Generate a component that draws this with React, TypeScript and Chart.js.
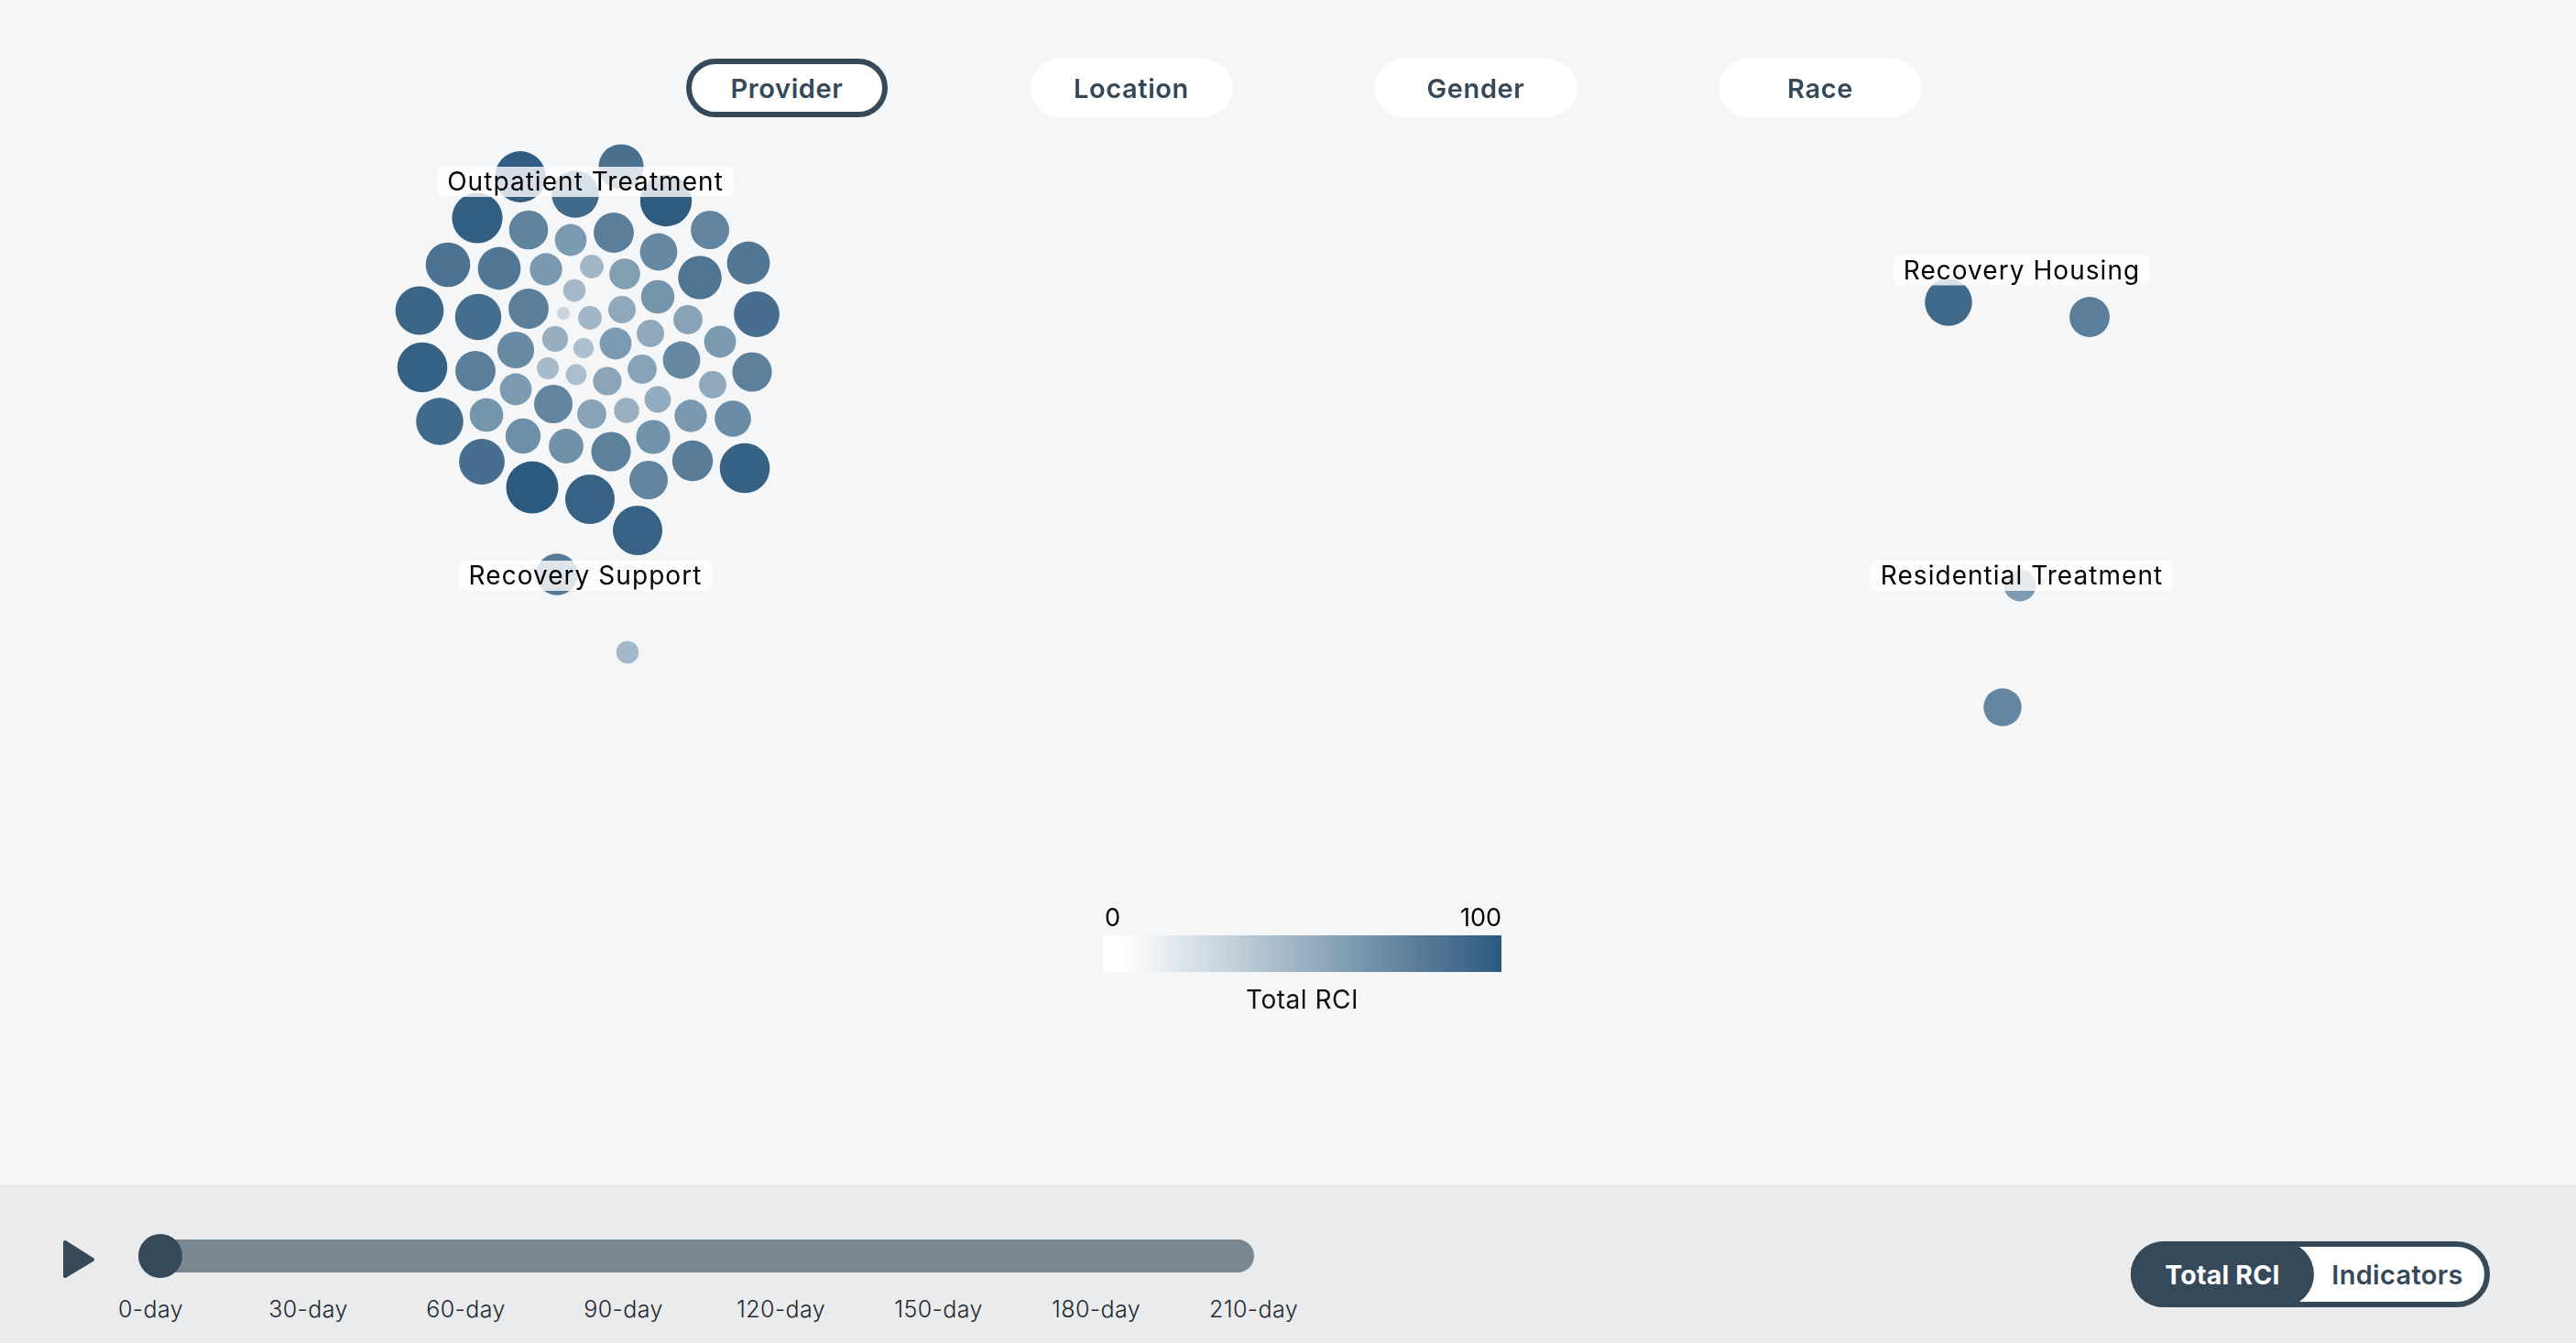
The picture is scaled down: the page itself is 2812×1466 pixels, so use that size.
import { useEffect, useRef } from 'react';
import { Chart } from 'chart.js/auto';

const FONT = 'Inter, "Open Sans", sans-serif';
const DARK = '#364958';

const tabs = ['Provider', 'Location', 'Gender', 'Race'];
const tabLeft = [749, 1125, 1501, 1877];
const dayLabels = ['0-day', '30-day', '60-day', '90-day', '120-day', '150-day', '180-day', '210-day'];

// bubble layout positions + Total RCI per client
const outpatientX = [568, 678, 628, 727, 521, 577, 623, 670, 775, 719, 489, 545, 596, 646, 682, 817, 764, 627, 718, 458, 522, 577, 615, 644, 679, 751, 826, 606, 672, 710, 563, 637, 786, 744, 461, 519, 598, 629, 663, 701, 821, 778, 563, 604, 646, 684, 718, 754, 800, 480, 531, 571, 618, 667, 713, 756, 813, 526, 581, 644, 708, 696];
const outpatientY = [193, 182, 212, 219, 238, 251, 262, 254, 251, 275, 289, 293, 294, 291, 299, 287, 303, 317, 324, 339, 346, 337, 342, 347, 338, 349, 343, 370, 375, 364, 382, 380, 373, 393, 401, 405, 402, 409, 416, 403, 406, 420, 425, 441, 452, 448, 436, 454, 457, 460, 453, 476, 487, 493, 477, 503, 511, 504, 532, 545, 524, 579];
const outpatientRci = [98, 87, 91, 99, 97, 76, 63, 78, 75, 73, 86, 83, 64, 48, 61, 83, 84, 46, 66, 93, 89, 78, 29, 48, 55, 58, 88, 52, 63, 55, 72, 42, 63, 73, 96, 78, 45, 43, 57, 58, 77, 55, 63, 75, 58, 51, 53, 64, 71, 91, 66, 69, 68, 77, 67, 79, 96, 88, 100, 95, 75, 95];

const supportX = [608, 685];
const supportY = [627, 712];
const supportRci = [81, 46];

const housingX = [2127, 2281];
const housingY = [330, 346];
const housingRci = [91, 78];

const residentialX = [2205, 2186];
const residentialY = [639, 772];
const residentialRci = [63, 74];

const groupNames = ['Outpatient Treatment', 'Recovery Support', 'Recovery Housing', 'Residential Treatment'];
const groupLabelX = [639, 639, 2207, 2207];
const groupLabelY = [198.5, 628.5, 295, 628.5];

// colour ramp of the Total RCI legend
const rampStops = [0, 5, 29, 48, 63, 78, 87, 100];
const rampColors = ['#ffffff', '#ffffff', '#c9d6df', '#a0b5c6', '#7c9ab0', '#5b7f9a', '#4a7090', '#2b5a7e'];

function hexToRgb(hex: string) {
    return [1, 3, 5].map((i) => parseInt(hex.slice(i, i + 2), 16));
}

function rciColor(v: number) {
    let i = 0;
    while (i < rampStops.length - 2 && v > rampStops[i + 1]) i++;
    const t = Math.min(1, (v - rampStops[i]) / (rampStops[i + 1] - rampStops[i]));
    const a = hexToRgb(rampColors[i]);
    const b = hexToRgb(rampColors[i + 1]);
    return `rgb(${a.map((c, k) => Math.round(c + (b[k] - c) * t)).join(',')})`;
}

// bubble size follows the same value as colour
function rciRadius(v: number) {
    return 0.3 * v - 1.5;
}

function makeDataset(label: string, xs: number[], ys: number[], rci: number[]) {
    return {
        label,
        data: xs.map((x, i) => ({ x, y: ys[i], r: rciRadius(rci[i]) })),
        backgroundColor: rci.map(rciColor),
        borderWidth: 0,
        hoverBorderWidth: 0,
    };
}

const groupLabelPlugin = {
    id: 'groupLabels',
    afterDatasetsDraw(chart: any) {
        const { ctx, scales } = chart;
        ctx.save();
        ctx.font = `400 28px ${FONT}`;
        ctx.letterSpacing = '1.05px';
        ctx.textAlign = 'center';
        ctx.textBaseline = 'middle';
        groupNames.forEach((name, i) => {
            const x = scales.x.getPixelForValue(groupLabelX[i]);
            const y = scales.y.getPixelForValue(groupLabelY[i]);
            const w = ctx.measureText(name).width + 22;
            ctx.fillStyle = 'rgba(255,255,255,0.8)';
            ctx.beginPath();
            ctx.roundRect(x - w / 2, y - 16.5, w, 33, 7);
            ctx.fill();
            ctx.fillStyle = '#000';
            ctx.fillText(name, x, y + 1.5);
        });
        ctx.restore();
    },
};

function BubbleChart() {
    const canvasRef = useRef<HTMLCanvasElement>(null);

    useEffect(() => {
        if (!canvasRef.current) return;

        const chart = new Chart(canvasRef.current, {
            type: 'bubble',
            data: {
                datasets: [
                    makeDataset(groupNames[0], outpatientX, outpatientY, outpatientRci),
                    makeDataset(groupNames[1], supportX, supportY, supportRci),
                    makeDataset(groupNames[2], housingX, housingY, housingRci),
                    makeDataset(groupNames[3], residentialX, residentialY, residentialRci),
                ],
            },
            options: {
                animation: false,
                responsive: false,
                // bubbles otherwise push the plot area in by their max radius
                layout: { autoPadding: false },
                plugins: {
                    legend: { display: false },
                    tooltip: { enabled: false },
                },
                scales: {
                    x: { type: 'linear', min: 0, max: 2812, display: false },
                    y: { type: 'linear', min: 0, max: 1293, reverse: true, display: false },
                },
            },
            plugins: [groupLabelPlugin],
        });

        return () => chart.destroy();
    }, []);

    return <canvas ref={canvasRef} width={2812} height={1293} style={{ position: 'absolute', left: 0, top: 0 }} />;
}

function abs(left: number, top: number, width: number, height: number) {
    return { position: 'absolute' as const, left, top, width, height };
}

export default function App() {
    const rampCss = rampStops.map((s, i) => `${rampColors[i]} ${s}%`).join(',');

    return (
        <div style={{ ...abs(0, 0, 2812, 1466), background: '#f5f6f8', overflow: 'hidden', fontFamily: FONT }}>
            <style>{'body{margin:0}'}</style>
            <BubbleChart />

            {tabs.map((tab, i) => (
                <div
                    key={tab}
                    style={{
                        ...abs(tabLeft[i], 64, 220, 64),
                        boxSizing: 'border-box',
                        background: '#fff',
                        border: i === 0 ? `6px solid ${DARK}` : 'none',
                        borderRadius: 32,
                        display: 'flex',
                        alignItems: 'center',
                        justifyContent: 'center',
                        fontSize: 29,
                        letterSpacing: 0.6,
                        fontWeight: 600,
                        color: DARK,
                    }}
                >
                    {tab}
                </div>
            ))}

            {/* colour legend */}
            <div style={{ ...abs(1206, 986, 60, 32), fontSize: 27, lineHeight: '32px', color: '#000' }}>0</div>
            <div style={{ ...abs(1539, 986, 100, 32), fontSize: 27, lineHeight: '32px', color: '#000', textAlign: 'right' }}>100</div>
            <div style={{ ...abs(1204, 1021, 435, 40), background: `linear-gradient(to right, ${rampCss})` }} />
            <div style={{ ...abs(1204, 1075, 435, 32), fontSize: 28, letterSpacing: 0.5, lineHeight: '32px', color: '#111', textAlign: 'center' }}>Total RCI</div>

            {/* footer with time slider and toggle */}
            <div style={{ ...abs(0, 1293, 2812, 173), background: '#e9ebed' }} />
            <svg style={abs(66, 1350, 42, 50)} viewBox="0 0 42 50">
                <polygon points="5,6 5,43 35,25" fill={DARK} stroke={DARK} strokeWidth={4} strokeLinejoin="round" />
            </svg>
            <div style={{ ...abs(160, 1353, 1209, 36), background: '#7b8790', borderRadius: 18 }} />
            <div style={{ ...abs(151, 1347, 48, 48), background: DARK, borderRadius: '50%' }} />
            {dayLabels.map((d, i) => (
                <div
                    key={d}
                    style={{
                        ...abs(164.5 + i * 172 - 80, 1414, 160, 30),
                        fontSize: 25,
                        letterSpacing: 0.4,
                        fontWeight: 300,
                        lineHeight: '30px',
                        color: '#25292e',
                        textAlign: 'center',
                    }}
                >
                    {d}
                </div>
            ))}

            <div
                style={{
                    ...abs(2326, 1355, 392, 72),
                    boxSizing: 'border-box',
                    background: '#fff',
                    border: `6px solid ${DARK}`,
                    borderRadius: 36,
                }}
            />
            <div style={{ ...abs(2326, 1355, 200, 72), background: DARK, borderRadius: 36 }} />
            <div style={{ ...abs(2326, 1355, 200, 72), display: 'flex', alignItems: 'center', justifyContent: 'center', color: '#fff', fontSize: 28.5, letterSpacing: 0.2, fontWeight: 700 }}>Total RCI</div>
            <div style={{ ...abs(2524, 1355, 186, 72), display: 'flex', alignItems: 'center', justifyContent: 'center', color: DARK, fontSize: 29, letterSpacing: 0.3, fontWeight: 600 }}>Indicators</div>
        </div>
    );
}
